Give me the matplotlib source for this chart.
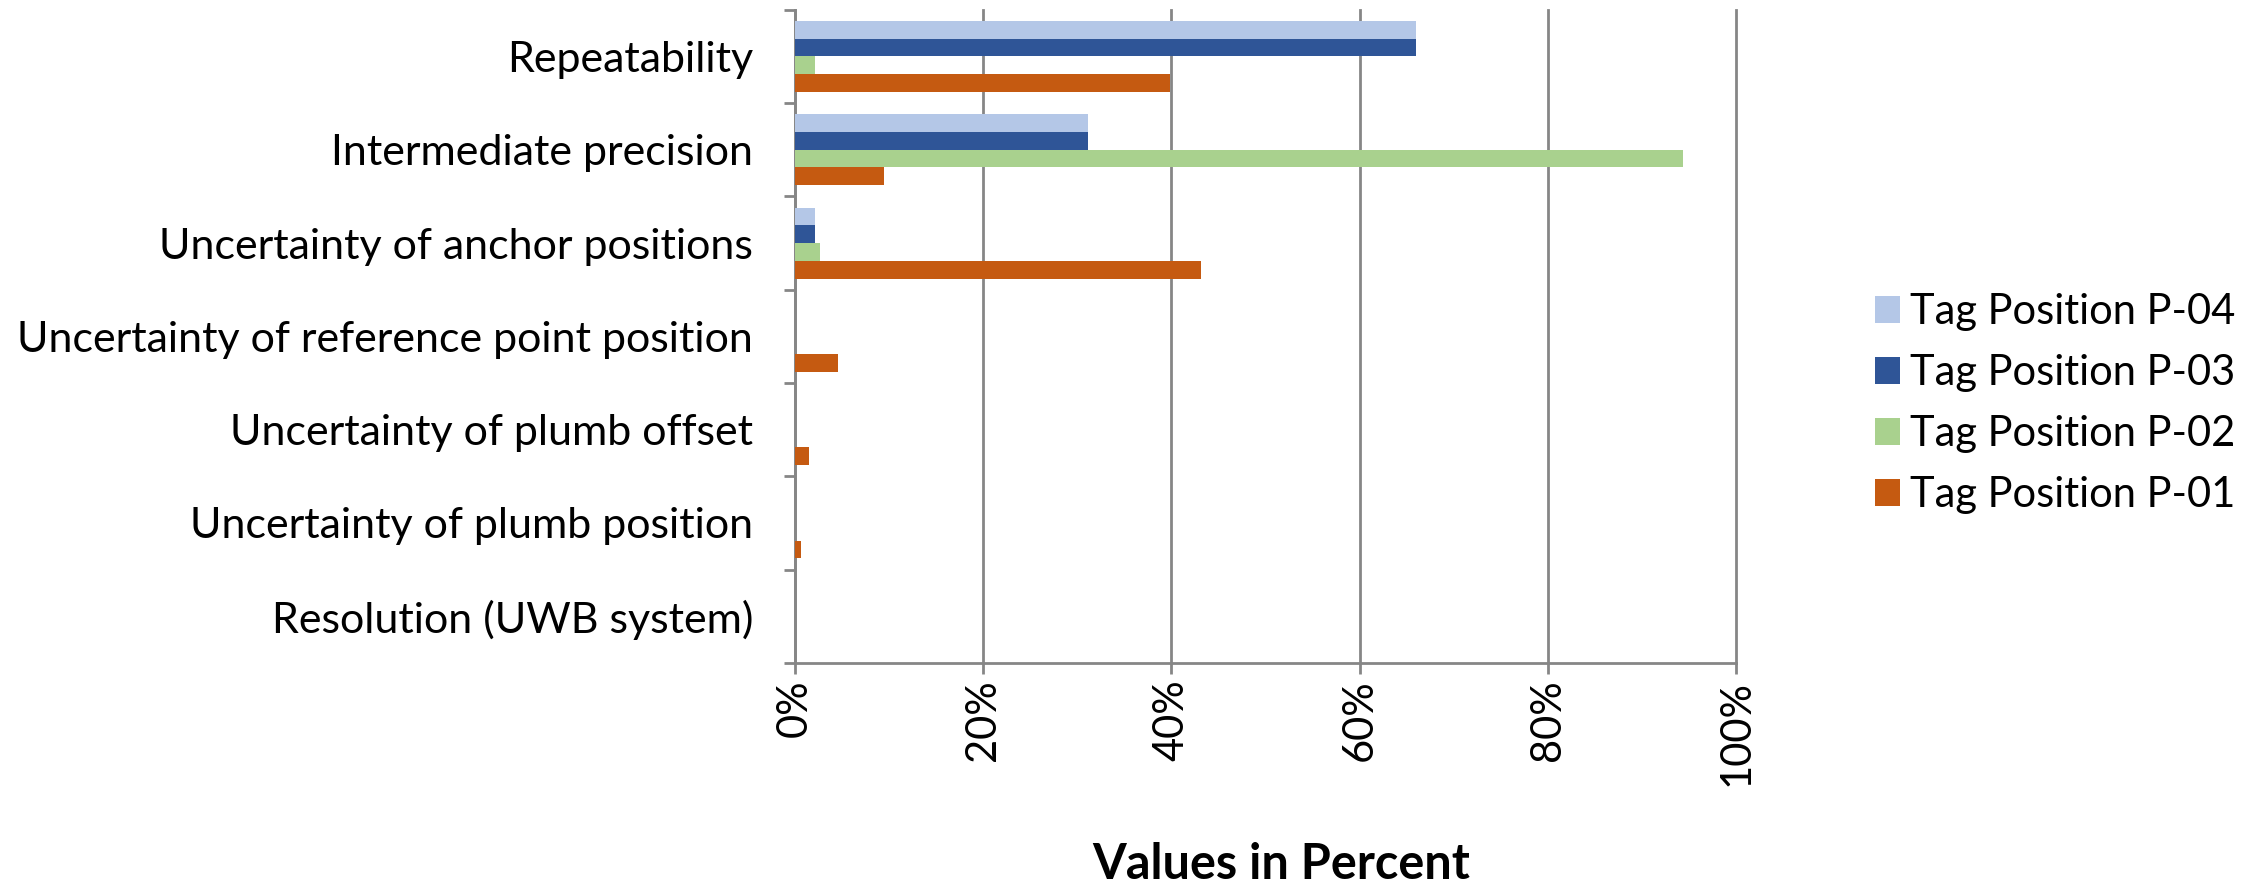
import numpy as np
import matplotlib.pyplot as plt
from matplotlib.ticker import FixedLocator, PercentFormatter

plt.rcParams['font.family'] = ['Lato', 'DejaVu Sans']

categories = ['Repeatability', 'Intermediate precision', 'Uncertainty of anchor positions',
              'Uncertainty of reference point position', 'Uncertainty of plumb offset',
              'Uncertainty of plumb position', 'Resolution (UWB system)']
series_names = ['Tag Position P-04', 'Tag Position P-03', 'Tag Position P-02', 'Tag Position P-01']
p04 = [66.0, 31.1, 2.2, 0.0, 0.0, 0.0, 0.0]
p03 = [66.0, 31.1, 2.2, 0.0, 0.0, 0.0, 0.0]
p02 = [2.2, 94.3, 2.7, 0.0, 0.0, 0.0, 0.0]
p01 = [39.9, 9.5, 43.1, 4.6, 1.5, 0.7, 0.0]
colors = ['#B4C7E7', '#2F5597', '#A9D18E', '#C55A11']


def plot_chart():
    fig = plt.figure(figsize=(22.64, 8.91), dpi=100)
    ax = fig.add_axes([0.351, 0.256, 0.416, 0.733])

    y = np.arange(len(categories))
    h = 0.19
    for i, (vals, name, c) in enumerate(zip([p04, p03, p02, p01], series_names, colors)):
        ax.barh(y + (i - 1.5) * h, vals, height=h, color=c, label=name, zorder=3)

    ax.set_ylim(len(categories) - 0.5, -0.5)
    ax.set_xlim(0, 100)
    ax.set_yticks(y)
    ax.set_yticklabels(categories, fontsize=31)
    ax.yaxis.set_minor_locator(FixedLocator(np.arange(-0.5, len(categories), 1)))
    ax.tick_params(axis='y', which='major', length=0, pad=30)
    ax.tick_params(axis='y', which='minor', length=8, width=2, color='#868686')

    ax.set_xticks(np.arange(0, 101, 20))
    ax.xaxis.set_major_formatter(PercentFormatter(decimals=0))
    ax.tick_params(axis='x', length=8, width=2, color='#868686', labelsize=30,
                   labelrotation=90, pad=4)
    ax.grid(axis='x', color='#868686', linewidth=2, zorder=0)
    for gl in ax.get_xgridlines():
        gl.set_clip_on(False)

    for s in ['top', 'right']:
        ax.spines[s].set_visible(False)
    for s in ['left', 'bottom']:
        ax.spines[s].set_color('#868686')
        ax.spines[s].set_linewidth(2)

    ax.set_xlabel('Values in Percent', fontsize=35, fontweight='bold')
    ax.xaxis.set_label_coords(0.517, -0.308)
    ax.xaxis.label.set_va('center')

    handles, labels = ax.get_legend_handles_labels()
    fig.legend(handles, labels, loc='center left', bbox_to_anchor=(0.828, 0.547),
               frameon=False, fontsize=30, handlelength=0.6, handleheight=0.6,
               handletextpad=0.25, labelspacing=0.55, borderpad=0, borderaxespad=0)

    fig.savefig('out.png', dpi=100)


if __name__ == "__main__":
    plot_chart()
